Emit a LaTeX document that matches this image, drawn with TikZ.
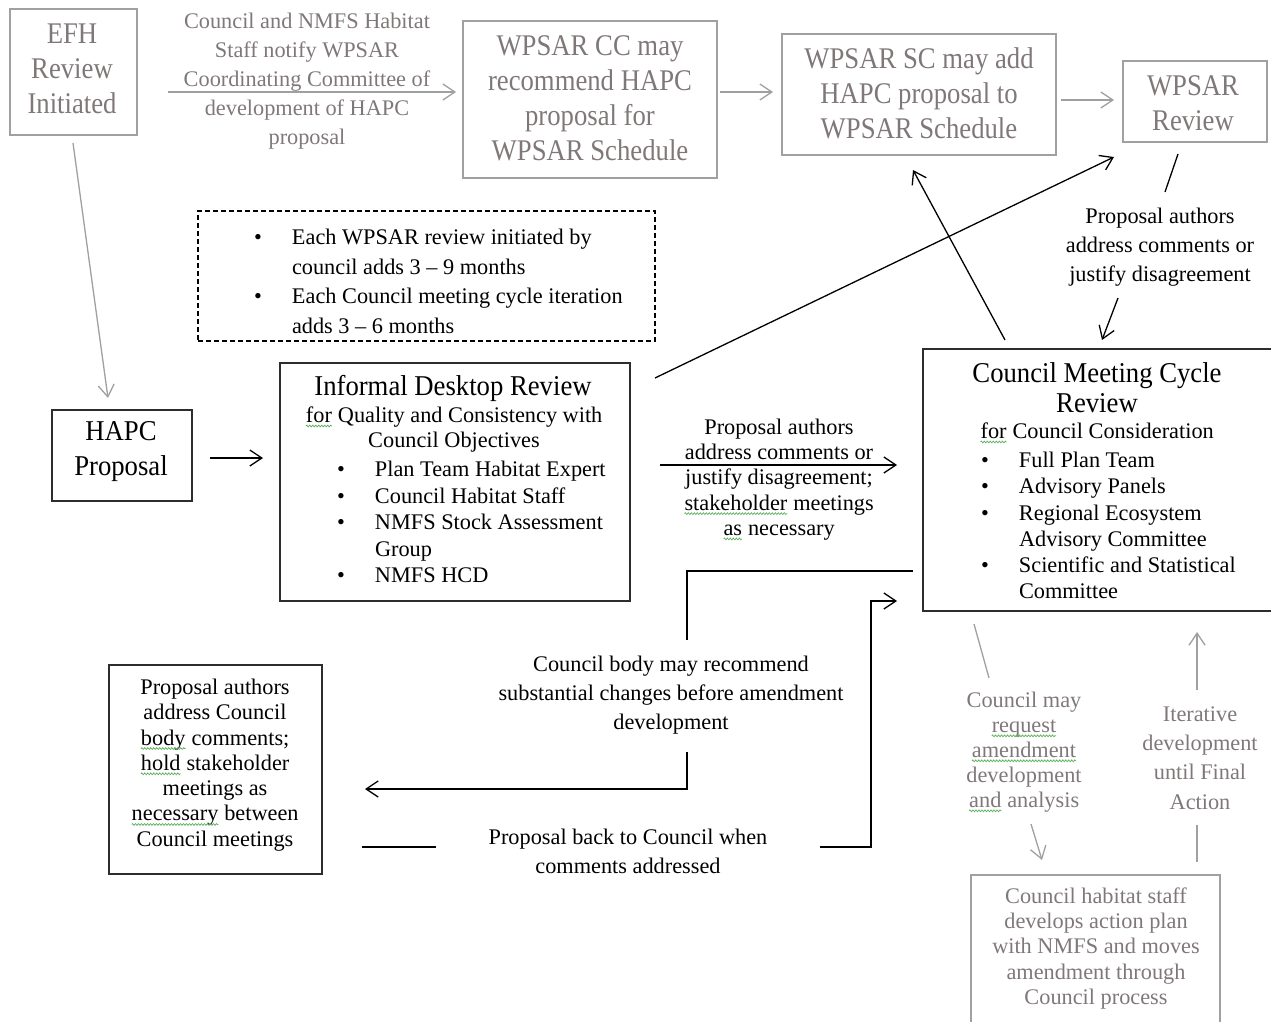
\documentclass[tikz,border=0pt]{standalone}
\usepackage{fontspec}
\setmainfont{Liberation Serif}
\newfontfamily\narrowserif[FakeStretch=0.89]{Liberation Serif}
\newfontfamily\titleserif[FakeStretch=0.93]{Liberation Serif}
\usetikzlibrary{arrows.meta,decorations.pathmorphing}
\definecolor{fadedtext}{RGB}{128,120,120}
\definecolor{fadedline}{RGB}{160,160,160}
\definecolor{boxline}{RGB}{45,45,45}
\definecolor{sqgreen}{RGB}{90,175,90}
% green wavy underline for flagged words
\newcommand\spellmark[1]{\tikz[baseline=(w.base)]{\node[inner sep=0pt,outer sep=0pt] (w) {#1};
  \draw[sqgreen, line width=0.7pt, decorate, decoration={zigzag, segment length=3pt, amplitude=0.9pt}]
    ([yshift=-3.5pt]w.base west) -- ([yshift=-3.5pt]w.base east);}}
\newcommand\bul{\makebox[38pt][l]{\textbullet}}
\newcommand\bulskip{\hspace*{38pt}}
\begin{document}
\begin{tikzpicture}[x=1pt,y=-1pt,
  every node/.style={inner sep=0pt, outer sep=0pt},
  fadedbox/.style={draw=fadedline, line width=1.5pt, rectangle},
  solidbox/.style={draw=boxline, line width=1.8pt, rectangle},
  notebox/.style={draw=black, line width=1.3pt, dash pattern=on 5pt off 3pt, rectangle},
  big/.style={font=\narrowserif\fontsize{30}{35}\selectfont, align=center},
  title/.style={font=\titleserif\fontsize{28.7}{#1}\selectfont, align=center},
  body/.style={font=\fontsize{22.3}{#1}\selectfont},
  faded/.style={text=fadedtext},
  tip/.style={-{Straight Barb[length=12pt,width=16pt]}},
  link/.style={line width=1.3pt, black},
  fadedlink/.style={line width=1.3pt, draw=fadedline},
]
\useasboundingbox (0,0) rectangle (1271,1022);

% ---- boxes ----
\node[fadedbox, minimum width=127pt, minimum height=126pt] (efh) at (73.5,72) {};
\node[fadedbox, minimum width=254pt, minimum height=157pt] (cc) at (590,99.5) {};
\node[fadedbox, minimum width=274pt, minimum height=121pt] (sc) at (919,94.5) {};
\node[fadedbox, minimum width=144pt, minimum height=81pt] (rev) at (1195,101.5) {};
\node[notebox, minimum width=457pt, minimum height=130pt] (note) at (426.5,276) {};
\node[solidbox, minimum width=140pt, minimum height=91pt] (hapc) at (122,455.5) {};
\node[solidbox, minimum width=350pt, minimum height=238pt] (idr) at (455,482) {};
\node[solidbox, minimum width=353pt, minimum height=262pt] (cmc) at (1099.5,480) {};
\node[solidbox, minimum width=213pt, minimum height=209pt] (pab) at (215.5,769.5) {};
\node[fadedbox, minimum width=249pt, minimum height=160pt] (chs) at (1095.5,955) {};

% ---- box texts ----
\node[big, faded] (efh-t) at (72,69) {EFH\\Review\\Initiated};
\node[big, faded] (cc-t) at (590,98) {WPSAR CC may\\recommend HAPC\\proposal for\\WPSAR Schedule};
\node[big, faded] (sc-t) at (919,93.5) {WPSAR SC may add\\HAPC proposal to\\WPSAR Schedule};
\node[big, faded] (rev-t) at (1193,103.5) {WPSAR\\Review};
\node[title=35] (hapc-t) at (121,451.5) {HAPC\\Proposal};

\node[body=29.7, align=left, anchor=west] (note-t) at (254,281.5)
  {\bul Each WPSAR review initiated by\\\bulskip council adds 3 -- 9 months\\\bul Each Council meeting cycle iteration\\\bulskip adds 3 -- 6 months};

\node[title=30] (idr-title) at (453,388) {Informal Desktop Review};
\node[body=25, align=center] (idr-sub) at (454,429.5) {\spellmark{for} Quality and Consistency with\\Council Objectives};
\node[body=26.5, align=left, anchor=west] (idr-list) at (337,522)
  {\bul Plan Team Habitat Expert\\\bul Council Habitat Staff\\\bul NMFS Stock Assessment\\\bulskip Group\\\bul NMFS HCD};

\node[title=30] (cmc-title) at (1097,387.5) {Council Meeting Cycle\\Review};
\node[body=25] (cmc-sub) at (1097,433) {\spellmark{for} Council Consideration};
\node[body=26.2, align=left, anchor=west] (cmc-list) at (981,525.5)
  {\bul Full Plan Team\\\bul Advisory Panels\\\bul Regional Ecosystem\\\bulskip Advisory Committee\\\bul Scientific and Statistical\\\bulskip Committee};

\node[body=25.3, align=center] (pab-t) at (215,765)
  {Proposal authors\\address Council\\\spellmark{body} comments;\\\spellmark{hold} stakeholder\\meetings as\\\spellmark{necessary} between\\Council meetings};

\node[body=25.2, align=center, faded] (chs-t) at (1096,948.5)
  {Council habitat staff\\develops action plan\\with NMFS and moves\\amendment through\\Council process};

% ---- connector labels ----
\node[body=29, align=center, faded] (notify-t) at (307,81.5)
  {Council and NMFS Habitat\\Staff notify WPSAR\\Coordinating Committee of\\development of HAPC\\proposal};
\node[body=29, align=center] (reply-t) at (1160,247)
  {Proposal authors\\address comments or\\justify disagreement};
\node[body=25.3, align=center] (fix-t) at (779,479.5)
  {Proposal authors\\address comments or\\justify disagreement;\\\spellmark{stakeholder} meetings\\\spellmark{as} necessary};
\node[body=29, align=center] (rec-t) at (671,695)
  {Council body may recommend\\substantial changes before amendment\\development};
\node[body=29, align=center] (back-t) at (628,851.5)
  {Proposal back to Council when\\comments addressed};
\node[body=25, align=center, faded] (req-t) at (1024,752)
  {Council may\\\spellmark{request}\\\spellmark{amendment}\\development\\\spellmark{and} analysis};
\node[body=29.3, align=center, faded] (iter-t) at (1200,758)
  {Iterative\\development\\until Final\\Action};

% ---- connector end points ----
\coordinate (efh-out) at (73,143);   \coordinate (hapc-in) at (108,398);
\coordinate (efh-r) at (168,92);     \coordinate (cc-in) at (456,92);
\coordinate (cc-out) at (720,92);    \coordinate (sc-in) at (773,92);
\coordinate (sc-out) at (1061,100);  \coordinate (rev-in) at (1114,100);
\coordinate (hapc-out) at (210,458); \coordinate (idr-in) at (263,458);
\coordinate (idr-up) at (655,378);   \coordinate (rev-low) at (1114,157);
\coordinate (cmc-up) at (1005,340);  \coordinate (sc-low) at (913,170);
\coordinate (rev-out) at (1178,154); \coordinate (reply-top) at (1165,192);
\coordinate (reply-bot) at (1118,298); \coordinate (cmc-top) at (1102,340);
\coordinate (idr-out) at (660,465);  \coordinate (cmc-in) at (897,465);
\coordinate (cmc-left) at (913,571); \coordinate (rec-top) at (687,640);
\coordinate (rec-bot) at (687,752);  \coordinate (pab-in) at (365,789);
\coordinate (pab-out) at (362,847);  \coordinate (back-l) at (436,847);
\coordinate (back-r) at (820,847);   \coordinate (cmc-low) at (897,601);
\coordinate (cmc-b1) at (974,624);   \coordinate (req-top) at (989,678);
\coordinate (req-bot) at (1031,824); \coordinate (chs-in) at (1042,860);
\coordinate (chs-out) at (1197,862); \coordinate (iter-bot) at (1197,825);
\coordinate (iter-top) at (1197,690); \coordinate (cmc-b2) at (1197,632);

% ---- connectors ----
\draw[fadedlink, tip] (efh-out) -- (hapc-in);
\draw[fadedlink, tip] (efh-r) -- (cc-in);
\draw[fadedlink, tip] (cc-out) -- (sc-in);
\draw[fadedlink, tip] (sc-out) -- (rev-in);
\draw[link, tip] (hapc-out) -- (idr-in);
\draw[link, tip] (idr-up) -- (rev-low);
\draw[link, tip] (cmc-up) -- (sc-low);
\draw[link] (rev-out) -- (reply-top);
\draw[link, tip] (reply-bot) -- (cmc-top);
\draw[link, tip] (idr-out) -- (cmc-in);
\draw[link] (cmc-left) -| (rec-top);
\draw[link, tip] (rec-bot) |- (pab-in);
\draw[link] (pab-out) -- (back-l);
\draw[link, tip] (back-r) -| (871,601) -- (cmc-low);
\draw[fadedlink] (cmc-b1) -- (req-top);
\draw[fadedlink, tip] (req-bot) -- (chs-in);
\draw[fadedlink] (chs-out) -- (iter-bot);
\draw[fadedlink, tip] (iter-top) -- (cmc-b2);
\end{tikzpicture}
\end{document}
